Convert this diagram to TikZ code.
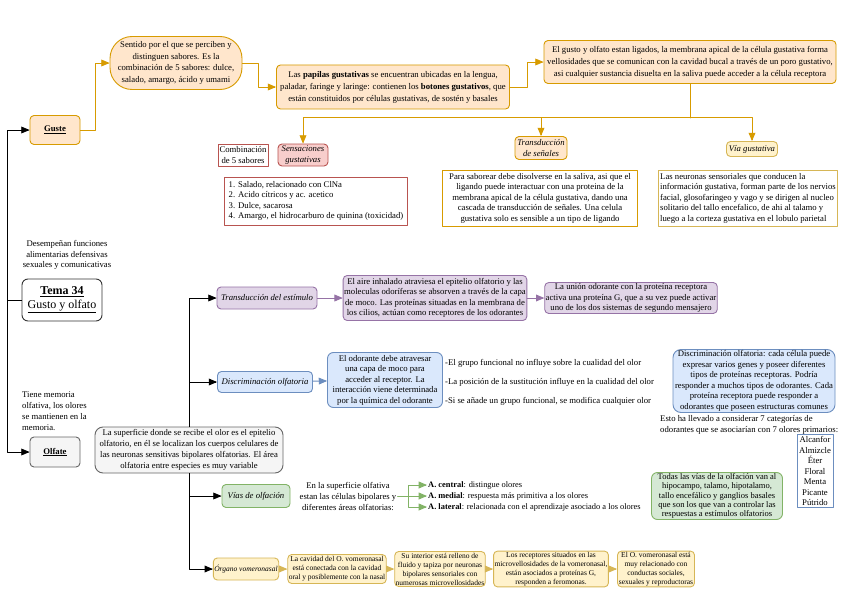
\documentclass[tikz,border=0pt]{standalone}
\usepackage{fontspec}
\setmainfont{Liberation Serif}
\usetikzlibrary{arrows,positioning}
\definecolor{orfill}{HTML}{FFE6CC}
\definecolor{ordraw}{HTML}{D79B00}
\definecolor{yefill}{HTML}{FFF2CC}
\definecolor{yedraw}{HTML}{D6B656}
\definecolor{rdfill}{HTML}{F8CECC}
\definecolor{rddraw}{HTML}{B85450}
\definecolor{pufill}{HTML}{E1D5E7}
\definecolor{pudraw}{HTML}{9673A6}
\definecolor{blfill}{HTML}{DAE8FC}
\definecolor{bldraw}{HTML}{6C8EBF}
\definecolor{gnfill}{HTML}{D5E8D4}
\definecolor{gndraw}{HTML}{82B366}
\definecolor{gyfill}{HTML}{F5F5F5}
\definecolor{gydraw}{HTML}{666666}

\begin{document}
\begin{tikzpicture}[x=1pt,y=-1pt,line cap=round,line join=round,>=triangle 45,
    every node/.style={font=\fontsize{8.7}{10.5}\selectfont,inner sep=1pt,align=center},
    box/.style={draw,rounded corners=4pt,line width=0.9pt},
    orbox/.style={box,fill=orfill,draw=ordraw},
    yebox/.style={box,fill=yefill,draw=yedraw},
    rdbox/.style={box,fill=rdfill,draw=rddraw},
    pubox/.style={box,fill=pufill,draw=pudraw},
    blbox/.style={box,fill=blfill,draw=bldraw},
    gnbox/.style={box,fill=gnfill,draw=gndraw},
    gybox/.style={box,fill=gyfill,draw=gydraw},
    plain/.style={draw,line width=0.9pt,fill=white},
    small/.style={font=\fontsize{7.5}{9}\selectfont}]
\useasboundingbox (0,0) rectangle (848,599);
\fill[white] (0,0) rectangle (848,599);
% gusto
\node[orbox,minimum width=50,minimum height=29] (guste) at (55,130) {\underline{\textbf{Guste}}};
\node[orbox,rounded corners=22pt,minimum width=132,minimum height=53,font=\fontsize{8.7}{11.5}\selectfont] (sentido) at (176,63) {Sentido por el que se perciben y\\ distinguen sabores. Es la\\ combinación de 5 sabores: dulce,\\ salado, amargo, ácido y umami};
\node[orbox,minimum width=233,minimum height=44,font=\fontsize{8.7}{12}\selectfont] (papilas) at (393,87) {Las \textbf{papilas gustativas} se encuentran ubicadas en la lengua,\\ paladar, faringe y laringe: contienen los \textbf{botones gustativos}, que\\ están constituidos por células gustativas, de sostén y basales};
\node[orbox,minimum width=292,minimum height=43,font=\fontsize{8.7}{12}\selectfont] (ligados) at (690,62) {El gusto y olfato estan ligados, la membrana apical de la célula gustativa forma\\ vellosidades que se comunican con la cavidad bucal a través de un poro gustativo,\\ asi cualquier sustancia disuelta en la saliva puede acceder a la célula receptora};
\node[plain,draw=rddraw,minimum width=50,minimum height=22] (combi) at (243,155) {Combinación\\ de 5 sabores};
\node[rdbox,minimum width=50,minimum height=22] (sensa) at (303,155) {\textit{Sensaciones}\\ \textit{gustativas}};
\node[plain,draw=rddraw,minimum width=183,minimum height=48,align=left,inner sep=3pt] (sabores) at (316,201) {1. Salado, relacionado con ClNa\\ 2. Acido cítricos y ac. acetico\\ 3. Dulce, sacarosa\\ 4. Amargo, el hidrocarburo de quinina (toxicidad)};
\node[orbox,minimum width=52,minimum height=23] (senal) at (541,148) {\textit{Transducción}\\ \textit{de señales}};
\node[plain,draw=ordraw,minimum width=195,minimum height=56] (ligando) at (540,198) {Para saborear debe disolverse en la saliva, asi que el\\ ligando puede interactuar con una proteina de la\\ membrana apical de la célula gustativa, dando una\\ cascada de transducción de señales. Una celula\\ gustativa solo es sensible a un tipo de ligando};
\node[yebox,minimum width=51,minimum height=15] (via) at (752,149) {\textit{Vía gustativa}};
\node[plain,draw=yedraw,minimum width=170,minimum height=56,align=left,inner sep=2pt] (nervios) at (748,198) {Las neuronas sensoriales que conducen la\\ información gustativa, forman parte de los nervios\\ facial, glosofaringeo y vago y se dirigen al nucleo\\ solitario del tallo encefalico, de ahi al talamo y\\ luego a la corteza gustativa en el lobulo parietal};
\draw[->,ordraw,line width=0.9pt] (guste.east) -- ++(15,0) |- (sentido);
\draw[->,ordraw,line width=0.9pt] (sentido.east) -- ++(16,0) |- (papilas);
\draw[->,ordraw,line width=0.9pt] (papilas.east) -- ++(17,0) |- (ligados);
\draw[ordraw,line width=0.9pt] (ligados.south) -- ++(0,34) coordinate (bus);
\draw[->,ordraw,line width=0.9pt] (bus) -| (sensa);
\draw[->,ordraw,line width=0.9pt] (bus) -| (senal);
\draw[->,ordraw,line width=0.9pt] (bus) -| (via);
% tema
\node (desem) at (67,255) {Desempeñan funciones\\ alimentarias defensivas\\ sexuales y comunicativas};
\node[box,draw=black!80,fill=white,rounded corners=6pt,minimum width=80,minimum height=42,font=\fontsize{12}{14}\selectfont] (tema) at (62,300) {\underline{\textbf{Tema 34}}\\ \underline{Gusto y olfato}};
% olfato
\node[align=left,anchor=west,font=\fontsize{8.7}{11}\selectfont] (memoria) at (21,411) {Tiene memoria\\ olfativa, los olores\\ se mantienen en la\\ memoria.};
\node[gybox,minimum width=50,minimum height=30] (olfate) at (55,452) {\underline{\textbf{Olfate}}};
\draw[->,line width=0.9pt] (tema.west) -- ++(-14,0) |- (guste);
\draw[->,line width=0.9pt] (tema.west) -- ++(-14,0) |- (olfate);
\node[gybox,rounded corners=8pt,minimum width=188,minimum height=46,font=\fontsize{8.7}{11}\selectfont] (sup) at (189,450) {La superficie donde se recibe el olor es el epitelio\\ olfatorio, en él se localizan los cuerpos celulares de\\ las neuronas sensitivas bipolares olfatorias. El área\\ olfatoria entre especies es muy variable};
\node[pubox,minimum width=100,minimum height=22] (estimulo) at (267,298) {\textit{Transducción del estímulo}};
\node[pubox,minimum width=183,minimum height=45] (aire) at (435,298) {El aire inhalado atraviesa el epitelio olfatorio y las\\ moleculas odoríferas se absorven a través de la capa\\ de moco. Las proteínas situadas en la membrana de\\ los cilios, actúan como receptores de los odorantes};
\node[pubox,minimum width=168,minimum height=30] (union) at (631,298) {La unión odorante con la proteína receptora\\ activa una proteína G, que a su vez puede activar\\ uno de los dos sistemas de segundo mensajero};
\node[blbox,minimum width=95,minimum height=21] (discri) at (265,382) {\textit{Discriminación olfatoria}};
\node[blbox,rounded corners=6pt,minimum width=115,minimum height=55] (moco) at (385,380) {El odorante debe atravesar\\ una capa de moco para\\ acceder al receptor. La\\ interacción viene determinada\\ por la química del odorante};
\node[anchor=west] (grupo1) at (444,363) {-El grupo funcional no influye sobre la cualidad del olor};
\node[anchor=west] (grupo2) at (444,382) {-La posición de la sustitución influye en la cualidad del olor};
\node[anchor=west] (grupo3) at (444,401) {-Si se añade un grupo funcional, se modifica cualquier olor};
\node[blbox,rounded corners=8pt,minimum width=162,minimum height=63] (celula) at (754,381) {Discriminación olfatoria: cada célula puede\\ expresar varios genes y poseer diferentes\\ tipos de proteínas receptoras. Podría\\ responder a muchos tipos de odorantes. Cada\\ proteína receptora puede responder a\\ odorantes que poseen estructuras comunes};
\node[anchor=west,align=left,font=\fontsize{8.7}{11}\selectfont] (esto) at (659,425) {Esto ha llevado a considerar 7 categorías de\\ odorantes que se asociarían con 7 olores primarios:};
\node[plain,draw=bldraw,minimum width=36,minimum height=73] (primarios) at (815,471) {Alcanfor\\ Almizcle\\ Éter\\ Floral\\ Menta\\ Picante\\ Pútrido};
\node[gnbox,minimum width=68,minimum height=23] (vias) at (256,496) {\textit{Vías de olfación}};
\node[font=\fontsize{8.7}{11}\selectfont] (areas) at (348,496) {En la superficie olfativa\\ estan las células bipolares y\\ diferentes áreas olfatorias:};
\coordinate (vj) at (408,496);
\node[anchor=west,font=\fontsize{8.4}{10}\selectfont] (central) at (427,485) {\textbf{A. central}: distingue olores};
\node[anchor=west,font=\fontsize{8.4}{10}\selectfont] (medial) at (427,496) {\textbf{A. medial}: respuesta más primitiva a los olores};
\node[anchor=west,font=\fontsize{8.4}{10}\selectfont] (lateral) at (427,507) {\textbf{A. lateral}: relacionada con el aprendizaje asociado a los olores};
\node[gnbox,rounded corners=6pt,minimum width=131,minimum height=47,font=\fontsize{8.5}{9.3}\selectfont] (todas) at (717,496) {Todas las vías de la olfación van al\\ hipocampo, talamo, hipotalamo,\\ tallo encefálico y ganglios basales\\ que son los que van a controlar las\\ respuestas a estímulos olfatorios};
\node[yebox,minimum width=64,minimum height=22,small] (vomero) at (246,569) {\textit{Órgano vomeronasal}};
\node[yebox,minimum width=95,minimum height=29,small] (cavidad) at (337,569) {La cavidad del O. vomeronasal\\ está conectada con la cavidad\\ oral y posiblemente con la nasal};
\node[yebox,minimum width=87,minimum height=35,small] (fluido) at (440,569) {Su interior está relleno de\\ fluido y tapiza por neuronas\\ bipolares sensoriales con\\ numerosas microvellosidades};
\node[yebox,minimum width=111,minimum height=35,small] (feromonas) at (551,569) {Los receptores situados en las\\ microvellosidades de la vomeronasal,\\ están asociados a proteínas G,\\ responden a feromonas.};
\node[yebox,minimum width=77,minimum height=35,small] (conductas) at (656,569) {El O. vomeronasal está\\ muy relacionado con\\ conductas sociales,\\ sexuales y reproductoras};
% conectores olfato
\draw[->,line width=0.9pt] (sup.north) |- (estimulo);
\draw[->,line width=0.9pt] (sup.north) |- (discri);
\draw[->,line width=0.9pt] (sup.south) |- (vias);
\draw[->,line width=0.9pt] (sup.south) |- (vomero);
\draw[->,pudraw,line width=0.9pt] (estimulo) -- (aire);
\draw[->,pudraw,line width=0.9pt] (aire) -- (union);
\draw[->,bldraw,line width=0.9pt] (discri) -- (moco);
\draw[gndraw,line width=0.9pt] (areas.east) -- (vj);
\draw[->,gndraw,line width=0.9pt] (vj) |- (central);
\draw[->,gndraw,line width=0.9pt] (vj) -- (medial);
\draw[->,gndraw,line width=0.9pt] (vj) |- (lateral);
\draw[->,yedraw,line width=0.9pt] (vomero) -- (cavidad);
\draw[->,yedraw,line width=0.9pt] (cavidad) -- (fluido);
\draw[->,yedraw,line width=0.9pt] (fluido) -- (feromonas);
\draw[->,yedraw,line width=0.9pt] (feromonas) -- (conductas);
\end{tikzpicture}
\end{document}
